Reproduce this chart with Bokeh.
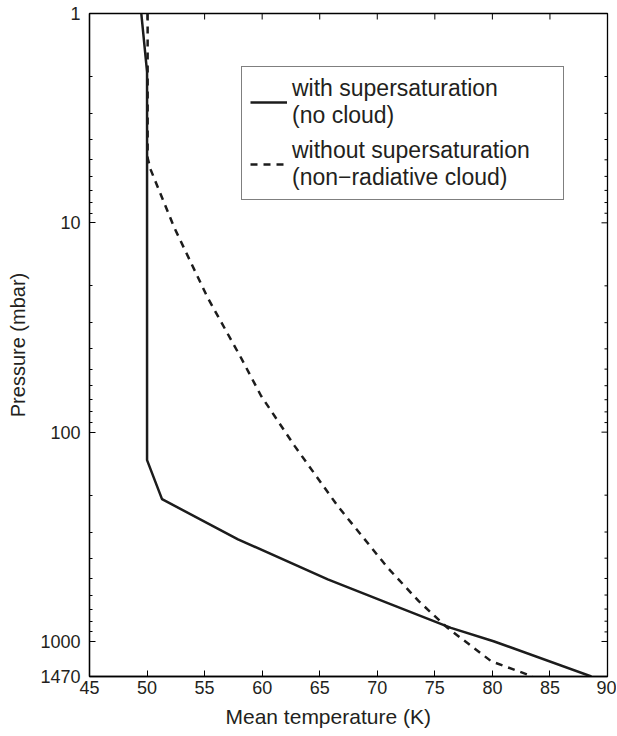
from bokeh.plotting import figure
from bokeh.models import (Range1d, FixedTicker, Legend, LegendItem, Title,
                          PrintfTickFormatter)
from bokeh.embed import file_html
from bokeh.resources import INLINE

# Data: temperature (K) vs pressure (mbar)
t_super = [49.5, 50.0, 50.0, 51.3, 57.9, 65.7, 71.2, 76.4, 80.1, 88.6]
p_super = [1.0, 1.9, 136, 209, 325, 505, 665, 861, 997, 1470]

t_nosuper = [50.05, 50.05, 50.33, 52.35, 55.25, 58.15, 59.9, 62.8, 66.55, 70.9, 73.6, 76.1, 79.9, 83.5]
p_nosuper = [1.0, 4.9, 5.6, 10.5, 22.7, 44, 67, 116, 225, 444, 642, 861, 1243, 1470]

x_ticks = [45, 50, 55, 60, 65, 70, 75, 80, 85, 90]
y_ticks = [1, 10, 100, 1000, 1470]
y_minor = [2, 3, 4, 5, 6, 7, 8, 9, 20, 30, 40, 50, 60, 70, 80, 90,
           200, 300, 400, 500, 600, 700, 800, 900]

label_super = "with supersaturation\n(no cloud)"
label_nosuper = "without supersaturation\n(non\u2212radiative cloud)"
x_title = "Mean temperature (K)"
y_title = "Pressure (mbar)"

FONT = "Liberation Sans"
TXT = "#231f20"
LC = "#1c1c1c"

X0, X1 = x_ticks[0], x_ticks[-1]
Y_TOP, Y_BOT = y_ticks[0], y_ticks[-1]

p = figure(width=616, height=736, x_range=Range1d(X0, X1), y_range=Range1d(Y_BOT, Y_TOP),
           y_axis_type="log", output_backend="svg", toolbar_location=None,
           min_border_left=89, min_border_right=9, min_border_top=13, min_border_bottom=60)
p.background_fill_color = "white"
p.border_fill_color = "white"
p.grid.visible = False
p.outline_line_color = "black"
p.outline_line_width = 1.3

xt = FixedTicker(ticks=x_ticks, minor_ticks=[])
yt = FixedTicker(ticks=y_ticks, minor_ticks=y_minor)

def style_axis(ax):
    ax.axis_line_color = "black"
    ax.axis_line_width = 1.3
    ax.major_tick_in = 6
    ax.major_tick_out = 0
    ax.minor_tick_in = 3
    ax.minor_tick_out = 0
    ax.major_tick_line_color = "black"
    ax.minor_tick_line_color = "black"
    ax.major_tick_line_width = 1
    ax.minor_tick_line_width = 1
    ax.major_label_text_font = FONT
    ax.major_label_text_color = TXT
    ax.major_label_text_font_size = "18px"

xa = p.xaxis[0]
xa.ticker = xt
style_axis(xa)
xa.major_label_standoff = 4

ya = p.yaxis[0]
ya.ticker = yt
ya.formatter = PrintfTickFormatter(format="%d")
style_axis(ya)
ya.major_label_standoff = 9
ya.axis_label = y_title
ya.axis_label_text_font = FONT
ya.axis_label_text_font_size = "20px"
ya.axis_label_text_font_style = "normal"
ya.axis_label_text_color = TXT
ya.axis_label_standoff = 8

# x-axis title, placed below the tick labels (slightly left of centre, as in the original)
p.add_layout(Title(text=x_title, align="left", offset=136, standoff=12,
                   text_font=FONT, text_font_size="21px", text_font_style="normal",
                   text_color=TXT), "below")

# mirrored tick marks on the top and right edges (half of each dash is clipped by the frame)
p.scatter(x=x_ticks, y=[Y_TOP] * len(x_ticks), marker="dash", size=12, angle=1.5708,
          line_color="black", line_width=1)
p.scatter(x=[X1] * len(y_ticks), y=y_ticks, marker="dash", size=12, angle=0,
          line_color="black", line_width=1)
p.scatter(x=[X1] * len(y_minor), y=y_minor, marker="dash", size=6, angle=0,
          line_color="black", line_width=1)

r1 = p.line(t_super, p_super, line_color=LC, line_width=2.5)
r2 = p.line(t_nosuper, p_nosuper, line_color=LC, line_width=2.5, line_dash="7 6")

legend = Legend(items=[LegendItem(label=label_super, renderers=[r1]),
                       LegendItem(label=label_nosuper, renderers=[r2])],
                location=(152, 476), margin=0, padding=8, spacing=8,
                glyph_width=37, label_standoff=5, label_width=263,
                label_text_font=FONT, label_text_font_size="23px",
                label_text_line_height=1.22, label_text_color=TXT,
                border_line_color="black", border_line_width=1.2,
                background_fill_color="white", background_fill_alpha=1.0)
p.add_layout(legend)

open("out.html", "w").write(file_html(p, INLINE))
